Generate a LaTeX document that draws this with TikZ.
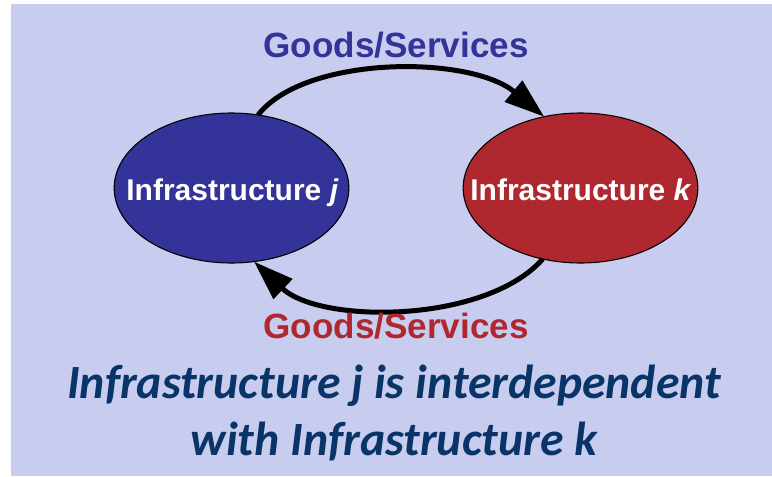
\documentclass[tikz,border=0pt]{standalone}
\usepackage{fontspec}
\setmainfont{Liberation Sans}
\newfontfamily\calib{Carlito}
\usetikzlibrary{shapes.geometric,arrows.meta}
\definecolor{bgc}{RGB}{200,204,238}
\definecolor{infblue}{RGB}{51,51,153}
\definecolor{infred}{RGB}{176,40,47}
\definecolor{navy}{RGB}{8,52,104}
\tikzset{
  infra/.style={ellipse, draw=black, line width=0.8pt, minimum width=176pt, minimum height=112.5pt, inner sep=0pt, outer sep=0pt},
  infratext/.style={text=white, font=\bfseries\fontsize{22.5}{27}\selectfont, anchor=base, inner sep=0pt},
  goods/.style={font=\bfseries\fontsize{26.3}{31}\selectfont, anchor=base, inner sep=0pt},
  flow/.style={line width=3.75pt, -{Triangle[length=30pt,width=20pt]}},
  caption/.style={text=navy, font=\calib\bfseries\itshape\fontsize{35.8}{42}\selectfont, anchor=base, inner sep=0pt}
}
\begin{document}
\begin{tikzpicture}[x=0.75pt,y=-0.75pt]
\useasboundingbox (0,0) rectangle (772,476);
\fill[white] (0,0) rectangle (772,476);
\fill[bgc] (11,4) rectangle (772,476);

\node[infra, fill=infblue] (j) at (231.5,188) {};
\node[infra, fill=infred] (k) at (580.5,188) {};
\node[infratext] (jt) at (232.5,200) {Infrastructure \textit{j}};
\node[infratext] (kt) at (581,200) {Infrastructure \textit{k}};

\draw[flow] (j.70.5) .. controls (305,55) and (470,55) .. (k.117.8);
\draw[flow] (k.242.5) .. controls (485,324) and (320,324) .. (j.287);

\node[goods, text=infblue] (g1) at (396,57) {Goods/Services};
\node[goods, text=infred] (g2) at (396,338) {Goods/Services};

\node[caption] (c1) at (394,398) {Infrastructure j is interdependent};
\node[caption] (c2) at (394,455) {with Infrastructure k};
\end{tikzpicture}
\end{document}
